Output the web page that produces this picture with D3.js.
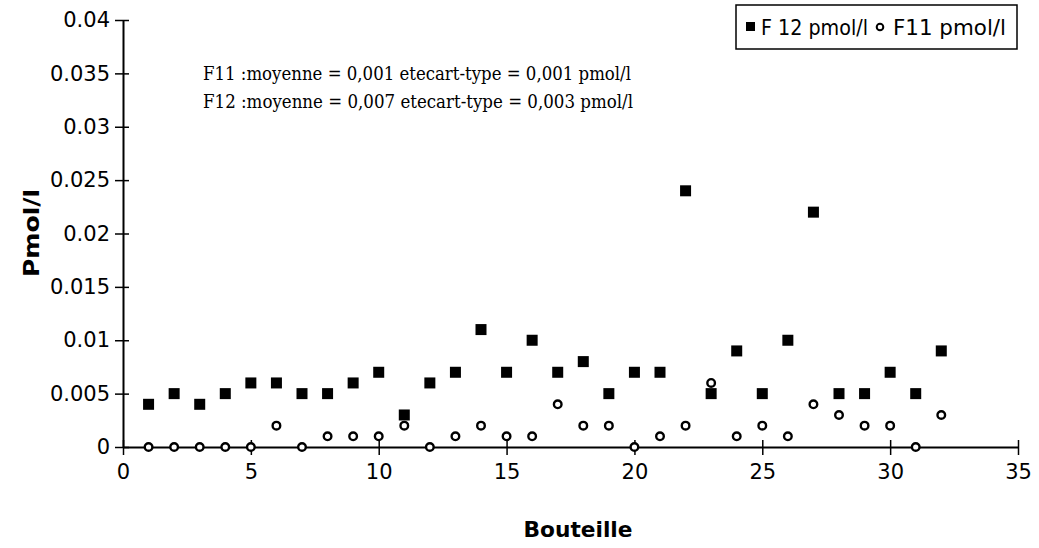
<!DOCTYPE html>
<html><head><meta charset="utf-8">
<script src="https://cdn.jsdelivr.net/npm/d3@7"></script>
<style>body{margin:0;background:#fff}svg{display:block}</style>
</head><body>
<svg id="c" width="1039" height="548"></svg>
<script>
const bottles = d3.range(1, 33);
const f12 = [0.004,0.005,0.004,0.005,0.006,0.006,0.005,0.005,0.006,0.007,0.003,0.006,0.007,0.011,0.007,0.010,0.007,0.008,0.005,0.007,0.007,0.024,0.005,0.009,0.005,0.010,0.022,0.005,0.005,0.007,0.005,0.009];
const f11 = [0,0,0,0,0,0.002,0,0.001,0.001,0.001,0.002,0,0.001,0.002,0.001,0.001,0.004,0.002,0.002,0,0.001,0.002,0.006,0.001,0.002,0.001,0.004,0.003,0.002,0.002,0,0.003];
const xTicks = [0,5,10,15,20,25,30,35];
const yTicks = [0,0.005,0.01,0.015,0.02,0.025,0.03,0.035,0.04];
const yLabels = ["0","0.005","0.01","0.015","0.02","0.025","0.03","0.035","0.04"];
const notes = ["F11 :moyenne = 0,001 etecart-type = 0,001 pmol/l","F12 :moyenne = 0,007 etecart-type = 0,003 pmol/l"];
const legendLabels = ["F 12 pmol/l","F11 pmol/l"];

const svg = d3.select("#c");
const x = d3.scaleLinear().domain([0,35]).range([123,1018]);
const y = d3.scaleLinear().domain([0,0.04]).range([447,20]);
const tickFont = "'DejaVu Sans', sans-serif";

// axes
const xAxis = svg.append("g").attr("transform","translate(0,"+y(0)+")")
  .call(d3.axisBottom(x).tickValues(xTicks).tickFormat(d3.format("d")).tickSizeInner(8).tickSizeOuter(0).tickPadding(9));
xAxis.select(".domain").attr("stroke","#000").attr("stroke-width",2);
xAxis.selectAll(".tick line").attr("y1",-7).attr("y2",8).attr("stroke-width",1.5);
xAxis.selectAll(".tick text").attr("font-family",tickFont).attr("font-size",21).attr("fill","#000");

const yAxis = svg.append("g").attr("transform","translate("+x(0)+",0)")
  .call(d3.axisLeft(y).tickValues(yTicks).tickFormat((d,i)=>yLabels[i]).tickSizeInner(8).tickSizeOuter(0).tickPadding(5));
yAxis.select(".domain").attr("stroke","#000").attr("stroke-width",2);
yAxis.selectAll(".tick line").attr("x1",-8).attr("x2",6).attr("stroke-width",1.5);
yAxis.selectAll(".tick text").attr("font-family",tickFont).attr("font-size",21).attr("fill","#000");

// axis titles
svg.append("text").attr("x",578).attr("y",537).attr("text-anchor","middle")
  .attr("font-family",tickFont).attr("font-weight","bold").attr("font-size",21)
  .attr("textLength",109).attr("lengthAdjust","spacingAndGlyphs").text("Bouteille");
svg.append("text").attr("transform","translate(39,233) rotate(-90)").attr("text-anchor","middle")
  .attr("font-family",tickFont).attr("font-weight","bold").attr("font-size",22)
  .attr("textLength",88).attr("lengthAdjust","spacingAndGlyphs").text("Pmol/l");

// annotations
notes.forEach((t,i)=>{
  svg.append("text").attr("x",203).attr("y",80+i*28).attr("font-family","'DejaVu Serif', serif")
    .attr("font-size",18).attr("textLength",i===0?428:430).attr("lengthAdjust","spacingAndGlyphs").text(t);
});

// data
svg.append("g").selectAll("rect").data(bottles).join("rect")
  .attr("x",(d,i)=>x(d)-5.5).attr("y",(d,i)=>y(f12[i])-5.5).attr("width",11).attr("height",11).attr("fill","#000");
svg.append("g").selectAll("circle").data(bottles).join("circle")
  .attr("cx",d=>x(d)).attr("cy",(d,i)=>y(f11[i])).attr("r",3.8)
  .attr("fill","#fff").attr("stroke","#000").attr("stroke-width",2.4);

// legend
const lg = svg.append("g");
lg.append("rect").attr("x",736).attr("y",5).attr("width",281).attr("height",44).attr("fill","#fff").attr("stroke","#000").attr("stroke-width",1.5);
lg.append("rect").attr("x",746).attr("y",22).attr("width",9).attr("height",9).attr("fill","#000");
lg.append("text").attr("x",761).attr("y",35).attr("font-family",tickFont).attr("font-size",21).attr("textLength",107).attr("lengthAdjust","spacingAndGlyphs").text(legendLabels[0]);
lg.append("circle").attr("cx",880).attr("cy",27).attr("r",3.3).attr("fill","#fff").attr("stroke","#000").attr("stroke-width",2);
lg.append("text").attr("x",893).attr("y",35).attr("font-family",tickFont).attr("font-size",21).attr("textLength",113).attr("lengthAdjust","spacingAndGlyphs").text(legendLabels[1]);
</script>
</body></html>
